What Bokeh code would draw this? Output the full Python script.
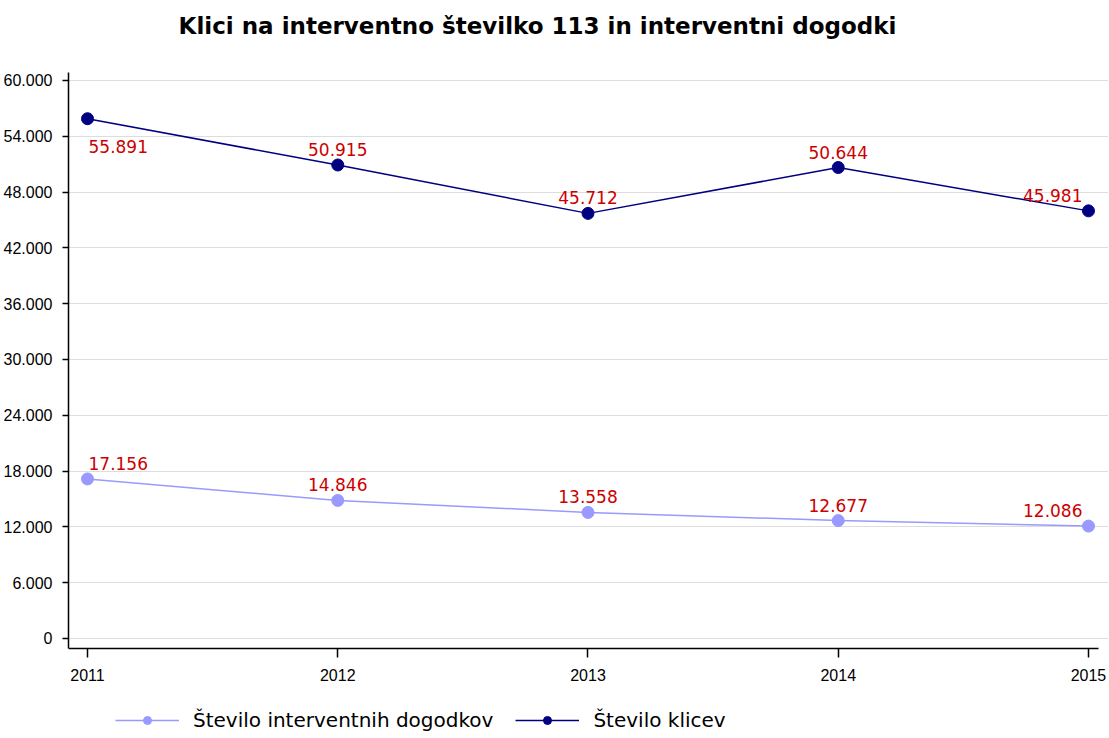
from bokeh.plotting import figure
from bokeh.models import Range1d, FixedTicker, Legend, LegendItem, ColumnDataSource, Label
from bokeh.embed import file_html
from bokeh.resources import INLINE

years = [2011, 2012, 2013, 2014, 2015]
klici = [55891, 50915, 45712, 50644, 45981]
dogodki = [17156, 14846, 13558, 12677, 12086]
y_ticks = [0, 6000, 12000, 18000, 24000, 30000, 36000, 42000, 48000, 54000, 60000]
y_tick_labels = ["0", "6.000", "12.000", "18.000", "24.000", "30.000", "36.000",
                 "42.000", "48.000", "54.000", "60.000"]
title_text = "Klici na interventno številko 113 in interventni dogodki"
legend_labels = ["Število interventnih dogodkov", "Število klicev"]

FONT = "Liberation Sans"
WFONT = "DejaVu Sans"
NAVY = "#000080"
LIGHT = "#9999ff"
RED = "#cc0000"

X_LOW, X_HIGH = 2010.924, 2015.08
Y_AXIS_LOW, Y_AXIS_HIGH = -1075, 60860


def fmt(v):
    return f"{v:,}".replace(",", ".")


p = figure(frame_width=1040, frame_height=736, output_backend="svg", toolbar_location=None,
           x_range=Range1d(X_LOW, X_HIGH), y_range=Range1d(-10538, 68602),
           min_border_left=68, min_border_right=0, min_border_top=0, min_border_bottom=0)
p.outline_line_color = None
p.background_fill_color = "white"
p.border_fill_color = "white"

p.xgrid.grid_line_color = None
p.ygrid.grid_line_color = "#dddddd"
p.ygrid.grid_line_width = 1

p.xaxis.ticker = FixedTicker(ticks=years)
p.xaxis.major_label_overrides = {y: str(y) for y in years}
p.xaxis.fixed_location = Y_AXIS_LOW
p.xaxis.bounds = (X_LOW, 2015.04)
p.yaxis.ticker = FixedTicker(ticks=y_ticks)
p.yaxis.major_label_overrides = {t_: l for t_, l in zip(y_ticks, y_tick_labels)}
p.yaxis.bounds = (Y_AXIS_LOW, Y_AXIS_HIGH)
for ax in (p.xaxis, p.yaxis):
    ax.axis_line_color = "black"
    ax.axis_line_width = 1.5
    ax.major_tick_line_color = "black"
    ax.major_tick_line_width = 1.5
    ax.minor_tick_line_color = None
    ax.major_tick_in = 0
    ax.major_label_text_font = FONT
    ax.major_label_text_font_size = "16px"
    ax.major_label_text_color = "black"
p.yaxis.major_tick_out = 6
p.yaxis.major_label_standoff = 10
p.xaxis.major_tick_out = 9
p.xaxis.major_label_standoff = 12

title = Label(x=469, y=711, x_units="screen", y_units="screen", text=title_text,
              text_align="center", text_baseline="middle", text_font=WFONT,
              text_font_size="23px", text_font_style="bold", text_color="black")
p.add_layout(title)

src_d = ColumnDataSource(dict(x=years, y=dogodki, lbl=[fmt(v) for v in dogodki]))
src_k = ColumnDataSource(dict(x=years, y=klici, lbl=[fmt(v) for v in klici]))

ld = p.line("x", "y", source=src_d, line_color=LIGHT, line_width=1.5)
cd = p.scatter("x", "y", source=src_d, size=12, marker="circle", fill_color=LIGHT, line_color=LIGHT)
lk = p.line("x", "y", source=src_k, line_color=NAVY, line_width=1.5)
ck = p.scatter("x", "y", source=src_k, size=12, marker="circle", fill_color=NAVY, line_color=NAVY)

# data labels
n = len(years)
for src, first_below in ((src_d, False), (src_k, True)):
    for i in range(n):
        view = ColumnDataSource(dict(x=[src.data["x"][i]], y=[src.data["y"][i]], lbl=[src.data["lbl"][i]]))
        if i == 0:
            align, xo = "left", 1
        elif i == n - 1:
            align, xo = "right", -6
        else:
            align, xo = "center", 0
        if i == 0 and first_below:
            base, yo = "top", 21
        else:
            base, yo = "bottom", -9
        p.text("x", "y", text="lbl", source=view, text_align=align, text_baseline=base,
               x_offset=xo, y_offset=yo, text_color=RED, text_font_size="17px",
               text_font={"value": WFONT})

legend = Legend(items=[LegendItem(label=legend_labels[0], renderers=[ld, cd]),
                       LegendItem(label=legend_labels[1], renderers=[lk, ck])],
                orientation="horizontal", location=(47, 4),
                glyph_width=64, glyph_height=20, label_text_font=WFONT,
                label_text_font_size="20px", label_text_color="black",
                border_line_color=None, background_fill_alpha=0,
                spacing=22, padding=0, margin=0, label_standoff=14)
p.add_layout(legend, "center")

open("out.html", "w").write(file_html(p, INLINE))
